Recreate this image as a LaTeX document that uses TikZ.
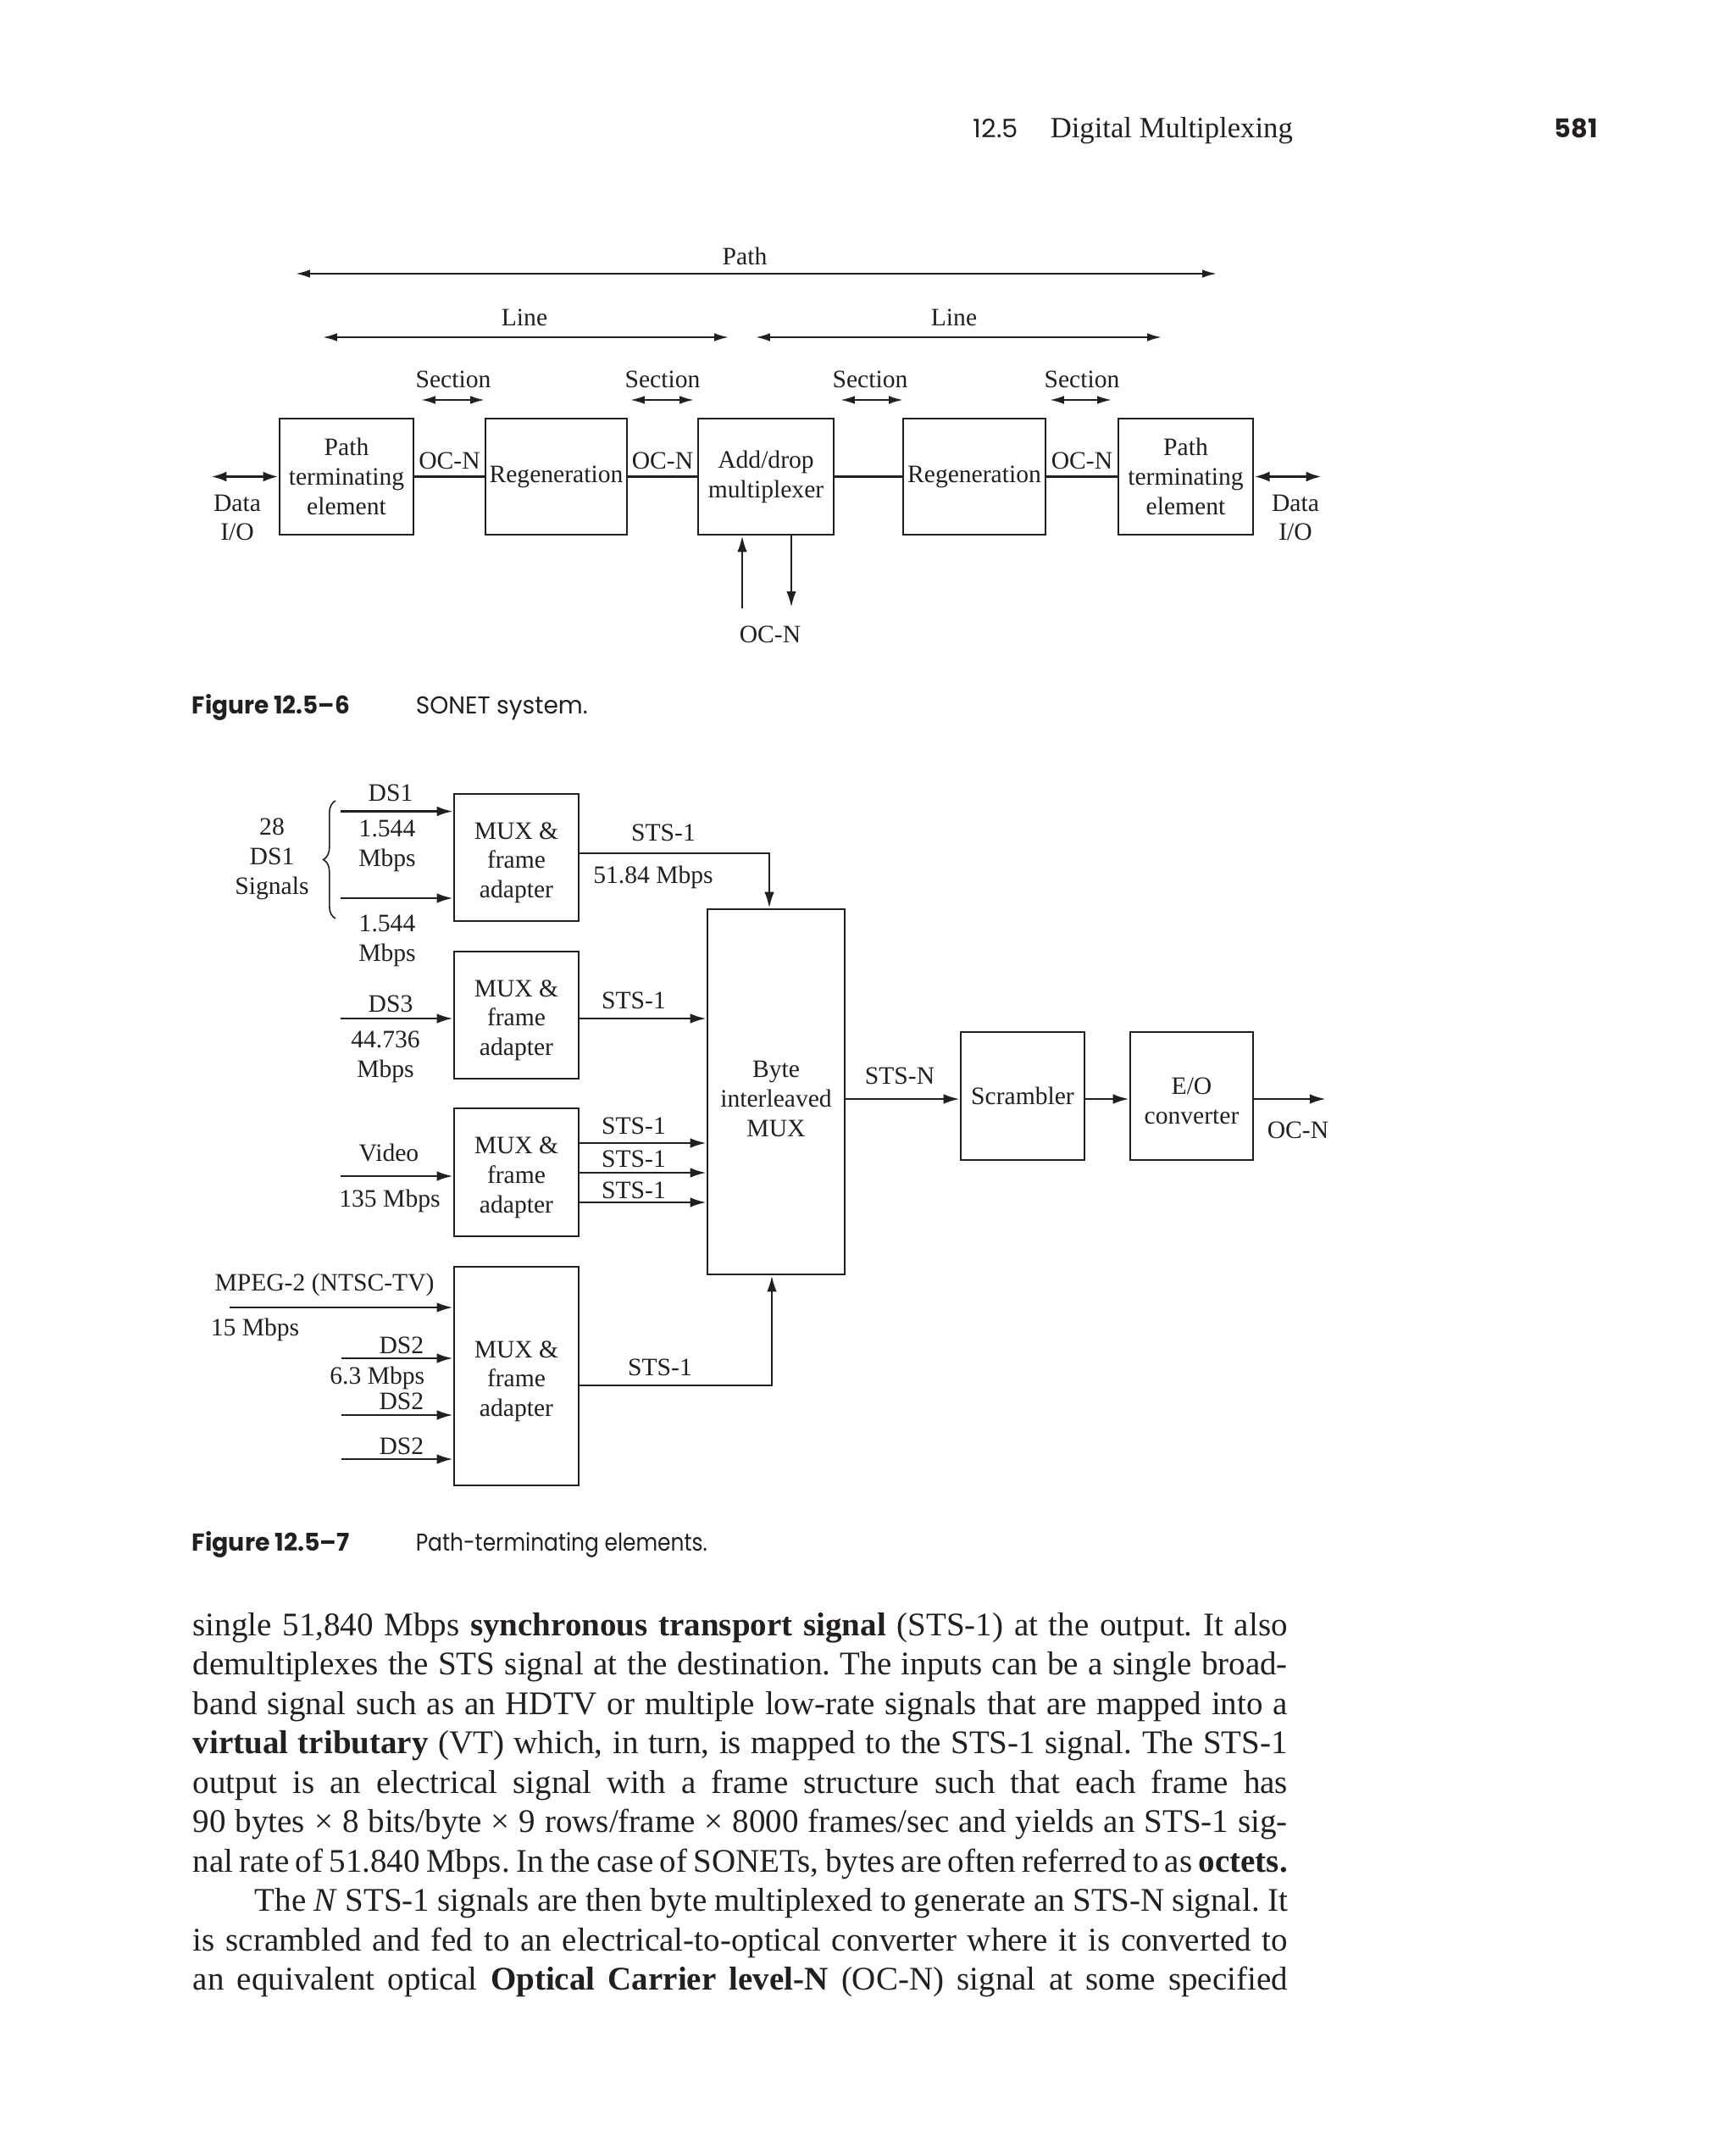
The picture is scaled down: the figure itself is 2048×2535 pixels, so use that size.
\documentclass[tikz,border=0pt]{standalone}
\usepackage{graphicx}
\usepackage{fontspec}
\setmainfont{Liberation Serif}
\newfontfamily\capfont{Poppins}
\usetikzlibrary{arrows.meta,decorations.pathreplacing}
\definecolor{ink}{RGB}{35,31,32}
\newcommand\dfont{\fontsize{7.4pt}{8.7pt}\selectfont}
\newcommand\bfont{\fontsize{9.75pt}{11.6pt}\selectfont\frenchspacing}
\newcommand\hfont{\fontsize{8pt}{9.6pt}\selectfont}
\newcommand\sansat[1]{\fontsize{#1}{#1}\selectfont\capfont}
\newcommand\bline[2]{\makebox[#1][s]{#2}}
\newcommand\lift[1]{\rule{0pt}{#1}}
\begin{document}
\begin{tikzpicture}[x=0.25pt,y=-0.25pt,
  every node/.style={text=ink},
  box/.style={draw=ink, line width=0.55pt, inner sep=0pt, font=\dfont, align=center},
  lbl/.style={font=\dfont, inner sep=0pt, text height=5.1pt, text depth=0pt},
  mlbl/.style={font=\dfont, inner sep=0pt, align=center},
  conn/.style={draw=ink, line width=0.8pt},
  ar/.style={draw=ink, line width=0.72pt, -{Latex[length=4.8pt,width=2.9pt]}},
  thinarr/.style={draw=ink, line width=0.55pt, {Latex[length=4.2pt,width=2.4pt]}-{Latex[length=4.2pt,width=2.4pt]}},
  dio/.style={draw=ink, line width=0.85pt, {Latex[length=4.6pt,width=3pt]}-{Latex[length=4.6pt,width=3pt]}},
  txt/.style={inner sep=0pt, anchor=base west}
]
\fill[white] (0,0) rectangle (2048,2535);
\useasboundingbox (0,0) rectangle (2048,2535);

% ---------- header ----------
\node[txt] (hnum) at (1148,163) {\resizebox{13.25pt}{\height}{\sansat{7.5pt}12.5}};
\node[txt] (htitle) at (1239,163) {\resizebox{71.5pt}{!}{\hfont Digital Multiplexing}};
\node[txt] (hpage) at (1834,163) {\resizebox{12.75pt}{\height}{\sansat{7.6pt}\bfseries 581}};

% ---------- Figure 12.5-6 ----------
\node[lbl] (pathlbl) at (879,302) {Path};
\coordinate (pathL) at (349,323);
\coordinate (pathR) at (1436,323);
\draw[thinarr] (pathL) -- (pathR);

\node[lbl] (line1lbl) at (619,374) {Line};
\node[lbl] (line2lbl) at (1126,374) {Line};
\coordinate (l1L) at (381,398); \coordinate (l1R) at (860,398);
\coordinate (l2L) at (892,398); \coordinate (l2R) at (1371,398);
\draw[thinarr] (l1L) -- (l1R);
\draw[thinarr] (l2L) -- (l2R);

\node[lbl] (sec1) at (535,447) {Section};
\node[lbl] (sec2) at (782,447) {Section};
\node[lbl] (sec3) at (1027,447) {Section};
\node[lbl] (sec4) at (1277,447) {Section};
\coordinate (s1L) at (497,472); \coordinate (s1R) at (572,472);
\coordinate (s2L) at (744,472); \coordinate (s2R) at (819,472);
\coordinate (s3L) at (992,472); \coordinate (s3R) at (1066,472);
\coordinate (s4L) at (1239,472); \coordinate (s4R) at (1312,472);
\draw[thinarr] (s1L) -- (s1R);
\draw[thinarr] (s2L) -- (s2R);
\draw[thinarr] (s3L) -- (s3R);
\draw[thinarr] (s4L) -- (s4R);

\node[box, minimum width=39.5pt, minimum height=34.25pt] (pte1) at (409,562.5) {Path\\terminating\\element};
\node[box, minimum width=41.75pt, minimum height=34.25pt] (reg1) at (656.5,562.5) {Regeneration};
\node[box, minimum width=40pt, minimum height=34.25pt] (adm) at (904,562.5) {Add/drop\\multiplexer};
\node[box, minimum width=42pt, minimum height=34.25pt] (reg2) at (1150,562.5) {Regeneration};
\node[box, minimum width=39.75pt, minimum height=34.25pt] (pte2) at (1399.5,562.5) {Path\\terminating\\element};

\draw[conn] (pte1.east) -- (reg1.west);
\draw[conn] (reg1.east) -- (adm.west);
\draw[conn] (adm.east) -- (reg2.west);
\draw[conn] (reg2.east) -- (pte2.west);

\node[lbl] (ocn1) at (530.5,543) {OC-N};
\node[lbl] (ocn2) at (782,543) {OC-N};
\node[lbl] (ocn4) at (1277,543) {OC-N};

\coordinate (dioL) at (249,562.5);
\coordinate (dioR) at (1560,562.5);
\draw[dio] (dioL) -- (pte1.west);
\draw[dio] (pte2.east) -- (dioR);
\node[mlbl] (dataL) at (280,611) {Data\\I/O};
\node[mlbl] (dataR) at (1529,611) {Data\\I/O};

\coordinate (upS) at (876,718);
\coordinate (dnE) at (934,717);
\draw[ar] (upS) -- (upS |- adm.south);
\draw[ar] (dnE |- adm.south) -- (dnE);
\node[lbl] (ocn3) at (909,748) {OC-N};

\node[txt] (cap1a) at (226,842) {\resizebox{46.5pt}{\height}{\sansat{7.2pt}\bfseries Figure 12.5–6}};
\node[txt] (cap1b) at (490,842) {\resizebox{50.75pt}{\height}{\sansat{7.2pt}SONET system.}};

% ---------- Figure 12.5-7 ----------
\node[box, minimum width=36.75pt, minimum height=37.5pt] (mux1) at (609.5,1012) {\lift{8pt}MUX \&\\frame\\adapter};
\node[box, minimum width=36.75pt, minimum height=37.5pt] (mux2) at (609.5,1198) {\lift{8pt}MUX \&\\frame\\adapter};
\node[box, minimum width=36.75pt, minimum height=37.75pt] (mux3) at (609.5,1383.5) {\lift{8pt}MUX \&\\frame\\adapter};
\node[box, minimum width=36.75pt, minimum height=64.5pt] (mux4) at (609.5,1624) {\lift{8pt}MUX \&\\frame\\adapter};
\node[box, minimum width=40.5pt, minimum height=107.75pt] (bim) at (916,1288.5) {\lift{9pt}Byte\\interleaved\\MUX};
\node[box, minimum width=36.5pt, minimum height=37.75pt] (scr) at (1207,1293.5) {Scrambler};
\node[box, minimum width=36.25pt, minimum height=37.75pt] (eo) at (1406.5,1293.5) {\lift{8pt}E/O\\converter};

% inputs
\node[mlbl] (sig) at (321,1014) {28\\DS1\\Signals};
\draw[ink, line width=0.4pt, decorate, decoration={brace, amplitude=3.6pt}] (396,1084) -- (396,945);
\node[lbl] (ds1) at (461,935) {DS1};
\coordinate (in1) at (402,957.5);
\coordinate (in2) at (402,1060);
\draw[ar] (in1) -- (in1 -| mux1.west);
\draw[ar] (in2) -- (in2 -| mux1.west);
\node[mlbl] (r1) at (457,998) {1.544\\Mbps};
\node[mlbl] (r2) at (457,1110) {1.544\\Mbps};

\node[lbl] (ds3) at (461,1184) {DS3};
\coordinate (in3) at (402,1202);
\draw[ar] (in3) -- (in3 -| mux2.west);
\node[mlbl] (r3) at (455,1247) {44.736\\Mbps};

\node[lbl] (video) at (459,1360) {Video};
\coordinate (in4) at (402,1388);
\draw[ar] (in4) -- (in4 -| mux3.west);
\node[lbl] (r4) at (460,1414) {135 Mbps};

\node[lbl] (mpeg) at (383,1513) {MPEG-2 (NTSC-TV)};
\coordinate (in5) at (271,1543);
\draw[ar] (in5) -- (in5 -| mux4.west);
\node[lbl] (r5) at (301,1566) {15 Mbps};
\node[lbl, anchor=east] (ds2a) at (501,1587) {DS2};
\coordinate (in6) at (403,1603);
\draw[ar] (in6) -- (in6 -| mux4.west);
\node[lbl, anchor=east] (r6) at (502,1623) {6.3 Mbps};
\node[lbl, anchor=east] (ds2b) at (501,1653) {DS2};
\coordinate (in7) at (403,1670);
\draw[ar] (in7) -- (in7 -| mux4.west);
\node[lbl, anchor=east] (ds2c) at (501,1706) {DS2};
\coordinate (in8) at (403,1722);
\draw[ar] (in8) -- (in8 -| mux4.west);

% outputs to byte interleaved mux
\coordinate (k1) at (908,1007);
\draw[ar] (k1 -| mux1.east) -- (k1) -- (k1 |- bim.north);
\node[lbl] (sts1a) at (783,982) {STS-1};
\node[lbl] (rate1) at (771,1032) {51.84 Mbps};

\coordinate (k2) at (835,1202);
\draw[ar] (k2 -| mux2.east) -- (k2 -| bim.west);
\node[lbl] (sts1b) at (748,1180) {STS-1};

\coordinate (k3a) at (835,1349);
\coordinate (k3b) at (835,1384);
\coordinate (k3c) at (835,1419);
\draw[ar] (k3a -| mux3.east) -- (k3a -| bim.west);
\draw[ar] (k3b -| mux3.east) -- (k3b -| bim.west);
\draw[ar] (k3c -| mux3.east) -- (k3c -| bim.west);
\node[lbl] (sts1c) at (748,1328) {STS-1};
\node[lbl] (sts1d) at (748,1367) {STS-1};
\node[lbl] (sts1e) at (748,1404) {STS-1};

\coordinate (k4) at (911,1635);
\draw[ar] (k4 -| mux4.east) -- (k4) -- (k4 |- bim.south);
\node[lbl] (sts1f) at (779,1613) {STS-1};

\coordinate (kn) at (1000,1297);
\draw[ar] (kn -| bim.east) -- (kn -| scr.west);
\node[lbl] (stsn) at (1062,1269) {STS-N};
\draw[ar] (kn -| scr.east) -- (kn -| eo.west);
\coordinate (ocnE) at (1565,1297);
\draw[ar] (ocnE -| eo.east) -- (ocnE);
\node[lbl] (ocn5) at (1532,1333) {OC-N};

\node[txt] (cap2a) at (226,1830) {\resizebox{46.5pt}{\height}{\sansat{7.2pt}\bfseries Figure 12.5–7}};
\node[txt] (cap2b) at (490,1830) {\resizebox{86pt}{\height}{\sansat{7.2pt}Path-terminating elements.}};

% ---------- body text ----------
\node[txt, font=\bfont] (b1) at (227,1930) {\bline{323pt}{single 51,840 Mbps \textbf{synchronous transport signal} (STS-1) at the output. It also}};
\node[txt, font=\bfont] (b2) at (227,1976.5) {\bline{323pt}{demultiplexes the STS signal at the destination. The inputs can be a single broad-}};
\node[txt, font=\bfont] (b3) at (227,2023) {\bline{323pt}{band signal such as an HDTV or multiple low-rate signals that are mapped into a}};
\node[txt, font=\bfont] (b4) at (227,2069.5) {\bline{323pt}{\textbf{virtual tributary} (VT) which, in turn, is mapped to the STS-1 signal. The STS-1}};
\node[txt, font=\bfont] (b5) at (227,2116) {\bline{323pt}{output is an electrical signal with a frame structure such that each frame has}};
\node[txt, font=\bfont] (b6) at (227,2162.5) {\bline{323pt}{90 bytes × 8 bits/byte × 9 rows/frame × 8000 frames/sec and yields an STS-1 sig-}};
\node[txt, font=\bfont] (b7) at (227,2209) {\bline{323pt}{nal rate of 51.840 Mbps. In the case of SONETs, bytes are often referred to as \textbf{octets.}}};
\node[txt, font=\bfont] (b8) at (300,2255.5) {\bline{304.75pt}{The \textit{N} STS-1 signals are then byte multiplexed to generate an STS-N signal. It}};
\node[txt, font=\bfont] (b9) at (227,2302) {\bline{323pt}{is scrambled and fed to an electrical-to-optical converter where it is converted to}};
\node[txt, font=\bfont] (b10) at (227,2348.5) {\bline{323pt}{an equivalent optical \textbf{Optical Carrier level-N} (OC-N) signal at some specified}};
\end{tikzpicture}
\end{document}
